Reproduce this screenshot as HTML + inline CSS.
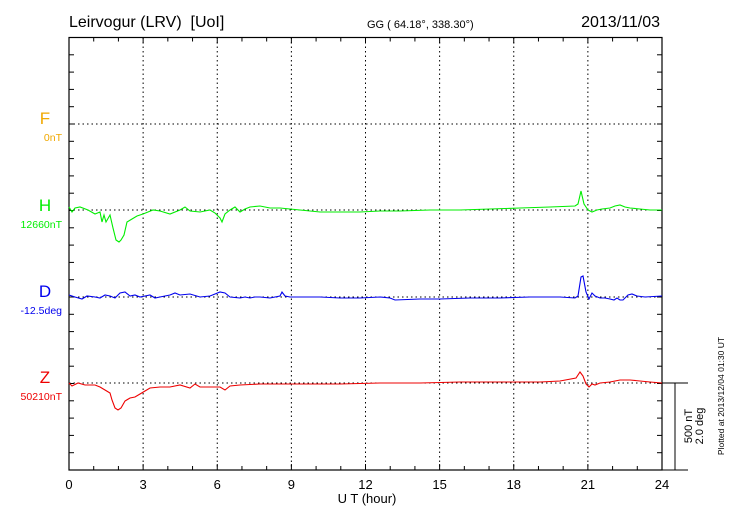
<!DOCTYPE html>
<html><head><meta charset="utf-8"><style>
body{margin:0;background:#fff;width:730px;height:520px;overflow:hidden}
svg text{font-family:"Liberation Sans",sans-serif}
</style></head><body>
<svg id="s" width="730" height="520" xmlns="http://www.w3.org/2000/svg">
<text x="69" y="27" font-size="16" style="white-space:pre">Leirvogur (LRV)  [UoI]</text>
<text x="367" y="28" font-size="11">GG ( 64.18°, 338.30°)</text>
<text x="660" y="27" font-size="16" text-anchor="end">2013/11/03</text>
<g id="grid" stroke="#000" stroke-width="1" stroke-dasharray="1.5,3"></g>
<g id="ticks" stroke="#000" stroke-width="1"></g>
<rect x="69" y="37.5" width="593" height="432.5" fill="none" stroke="#000" stroke-width="1.2"/>
<line x1="662" y1="383" x2="688" y2="383" stroke="#000"/>
<line x1="675" y1="383" x2="675" y2="470" stroke="#000"/>
<line x1="662" y1="470" x2="688" y2="470" stroke="#000"/>
<g font-size="17">
<text x="45" y="124" fill="#f0a800" text-anchor="middle">F</text>
<text x="45" y="211" fill="#00ee00" text-anchor="middle">H</text>
<text x="45" y="297" fill="#0000ee" text-anchor="middle">D</text>
<text x="45" y="383" fill="#ee0000" text-anchor="middle">Z</text>
</g>
<g font-size="10.5" text-anchor="end">
<text x="62" y="141" fill="#f0a800">0nT</text>
<text x="62" y="228" fill="#00ee00">12660nT</text>
<text x="62" y="314" fill="#0000ee">-12.5deg</text>
<text x="62" y="400" fill="#ee0000">50210nT</text>
</g>
<g id="xl" font-size="13" text-anchor="middle"></g>
<text x="367" y="503" font-size="13" text-anchor="middle">U T (hour)</text>
<text transform="translate(692,426) rotate(-90)" font-size="11" text-anchor="middle">500 nT</text>
<text transform="translate(703,426) rotate(-90)" font-size="11" text-anchor="middle">2.0 deg</text>
<text transform="translate(724,396) rotate(-90)" font-size="8.5" text-anchor="middle">Plotted at 2013/12/04 01:30 UT</text>
<g fill="none" stroke-width="1.1">
<polyline stroke="#00ee00" points="69,207 72,212 75,208 80,207 88,210 95,214 100,212 102,222 104,215 106,222 110,215 113,228 116,240 119,242 121,240 124,235 127,222 132,219 137,216 143,214 148,212 153,210 160,211 170,214 180,210 185,207 190,211 200,212 210,210 215,213 220,218 222,222 225,214 230,210 235,207 240,212 245,209 250,207 260,206 270,208 280,208 290,209 300,210 320,212 340,212 360,212 380,211 400,211 430,210 460,210 490,209 520,208 550,207 575,206 578,204 581,191 584,204 588,210 592,212 597,210 602,209 610,208 615,206 620,205 625,207 630,208 640,209 650,210 662,210"/>
<polyline stroke="#0000ee" points="69,295 75,297 82,299 87,296 95,297 100,298 105,295 110,296 115,298 120,293 125,292 130,296 135,295 140,297 145,296 150,295 155,298 160,297 165,296 170,295 175,293 180,295 190,294 200,297 210,296 215,294 220,292 225,293 230,297 240,298 245,297 250,298 255,297 260,297 270,298 280,296 282,292 285,296 290,297 300,297 320,297 340,298 360,298 380,297 390,298 395,300 420,299 440,299 470,298 500,298 530,297 560,297 575,298 578,296 581,277 583,276 586,292 589,299 592,293 595,296 600,298 605,298 610,299 614,300 617,298 620,300 623,300 628,295 632,294 637,296 645,297 662,296"/>
<polyline stroke="#ee0000" points="69,383 72,386 78,383 85,385 95,385 100,387 105,390 110,393 112,400 115,408 118,410 121,408 125,401 130,398 135,397 140,394 145,391 150,388 160,387 170,387 180,385 190,388 195,384 200,387 210,387 220,387 225,390 230,386 240,385 260,384 300,384 340,384 380,383 420,383 460,382 500,382 540,382 560,381 576,378 580,372 583,376 586,384 589,387 592,384 595,385 600,383 610,382 620,380 630,380 640,381 650,382 662,383"/>
</g>
</svg>
<script>
var ns="http://www.w3.org/2000/svg";
function L(g,x1,y1,x2,y2){var l=document.createElementNS(ns,"line");l.setAttribute("x1",x1);l.setAttribute("y1",y1);l.setAttribute("x2",x2);l.setAttribute("y2",y2);document.getElementById(g).appendChild(l);}
var x0=69,x1=662,y0=37.5,y1=470,dx=(x1-x0)/24,dy=(y1-y0)/25;
for(var h=0;h<=24;h++){var x=x0+h*dx;var len=(h%3==0)?6:4;L("ticks",x,y0,x,y0+len);L("ticks",x,y1,x,y1-len);
 if(h%3==0){if(h>0&&h<24)L("grid",x,y0,x,y1);var t=document.createElementNS(ns,"text");t.setAttribute("x",x);t.setAttribute("y",489);t.textContent=h;document.getElementById("xl").appendChild(t);}}
for(var i=0;i<=25;i++){var y=y0+i*dy;L("ticks",x0,y,x0+5,y);L("ticks",x1,y,x1-5,y);}
[124,210,297,383].forEach(function(y){L("grid",x0,y,x1,y);});
</script>
</body></html>
